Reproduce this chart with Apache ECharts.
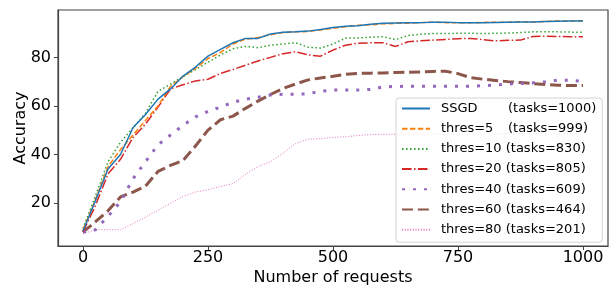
<!DOCTYPE html>
<html>
<head>
<meta charset="utf-8">
<script src="https://cdn.jsdelivr.net/npm/echarts@6/dist/echarts.min.js"></script>
<style>
  html, body { margin: 0; padding: 0; background: #fff; }
  #main { width: 615px; height: 287px; }
</style>
</head>
<body>
<div id="main"></div>
<script>
// x positions (number of requests)
var requests = [0, 25, 50, 75, 100, 125, 150, 175, 200, 225, 250, 275, 300, 325, 350, 375, 400,
  425, 450, 475, 500, 525, 550, 575, 600, 625, 650, 675, 700, 725, 750, 775, 800, 825, 850, 875,
  900, 925, 950, 975, 1000];

var seriesNames = ["SSGD", "thres=5", "thres=10", "thres=20", "thres=40", "thres=60", "thres=80"];
var taskCounts = [1000, 999, 830, 805, 609, 464, 201];
var xTicks = [0, 250, 500, 750, 1000];
var yTicks = [20, 40, 60, 80];

var ssgd = [8.5, 21, 34, 40, 51, 56.5, 62.8, 67, 72.3, 76, 80.5, 83.3, 86, 87.8, 87.8, 89.6, 90.3,
  90.5, 90.8, 91.5, 92.3, 92.8, 93, 93.6, 94, 94.1, 94.2, 94.3, 94.5, 94.5, 94.3, 94.2, 94.3, 94.4,
  94.5, 94.6, 94.6, 94.8, 94.9, 95, 95];
var thres5 = [9, 21.5, 35, 42, 48, 54, 60, 68, 72, 75.5, 79.5, 82, 85.5, 87.5, 88.2, 89.3, 90.2,
  90.5, 90.6, 91.3, 92, 92.6, 93.2, 93.4, 93.8, 94, 94, 94.3, 94.5, 94.3, 94.2, 94.2, 94.4, 94.5,
  94.5, 94.7, 94.6, 94.8, 95, 95, 95.1];
var thres10 = [9.5, 23, 37, 45, 51, 57, 66, 69, 72, 75, 78, 81, 83.5, 84.5, 84, 85, 85.5,
  86, 84.2, 83.8, 85.5, 87.9, 88, 88.3, 88.5, 87.3, 89, 89.5, 89.8, 89.8, 89.9, 89.9, 89.8, 89.9,
  90, 90.2, 90.5, 90.5, 90.5, 90.4, 90.3];
var thres20 = [8, 19, 32, 38, 47, 52.5, 59.5, 67, 68.7, 70.3, 71, 73.4, 75, 76.8, 78.5, 80, 81.5,
  82.3, 81, 80.5, 83, 85, 85.8, 86, 86, 84.5, 86.4, 86.8, 87.1, 87.4, 87.7, 87.8, 87.3, 86.8,
  87, 87.1, 88.6, 88.7, 88.6, 88.5, 88.5];
var thres40 = [8, 9, 14.5, 20.5, 30, 37, 44, 48, 52, 55.5, 57.8, 59.5, 61.5, 62.7, 63.6, 64.5, 64.8,
  64.8, 65, 66, 66.5, 66.5, 66.5, 66.8, 67.8, 68, 68.1, 68.1, 68.1, 68.1, 68.1, 68.1, 68.3, 68.6,
  69, 69.2, 69.5, 70, 70.6, 70.5, 70.2];
var thres60 = [8, 12.3, 16.8, 22.5, 24.5, 27, 33, 35.5, 37.5, 43.5, 50, 54.3, 55.8, 59, 62, 64.7, 67.2,
  69, 70.7, 71.5, 72.2, 73, 73.4, 73.5, 73.6, 73.8, 73.9, 74, 74.2, 74.3, 73.3, 71.6, 71, 70.5,
  70, 69.6, 69.2, 68.8, 68.5, 68.4, 68.4];
var thres80 = [7.4, 9, 9, 9, 11.5, 14.2, 17, 20, 22.7, 24.5, 25.5, 26.8, 28, 31.8, 35, 37, 40.5,
  44.5, 46.3, 46.5, 47, 47.3, 47.8, 48.2, 48.3, 48.3, 48.3, 48.3, 48.4, 48.4, 48.4, 48.4, 48.4, 48.4,
  48.5, 48.5, 48.5, 48.5, 48.5, 48.5, 48.5];

var allValues = [ssgd, thres5, thres10, thres20, thres40, thres60, thres80];
var colors = ["#1f77b4", "#ff7f0e", "#2ca02c", "#d62728", "#9467bd", "#8c564b", "#e377c2"];
// line widths and dash patterns (matplotlib look)
var widths = [1.5, 1.5, 1.5, 1.5, 3, 3, 1];
var dashes = ["solid", [5.5, 2.4], [1.5, 2.5], [9.6, 2.4, 1.5, 2.4], [3, 8], [11, 4.8], [1, 1.7]];

var font = "DejaVu Sans";

function pairs(vals) {
  var out = [];
  for (var i = 0; i < requests.length; i++) {
    out.push([requests[i], vals[i]]);
  }
  return out;
}

var series = [];
for (var s = 0; s < seriesNames.length; s++) {
  series.push({
    name: seriesNames[s],
    type: "line",
    symbol: "none",
    showSymbol: false,
    data: pairs(allValues[s]),
    lineStyle: { color: colors[s], width: widths[s], type: dashes[s] },
    itemStyle: { color: colors[s] },
    z: 2 + (seriesNames.length - s) * 0.01
  });
}

var chart = echarts.init(document.getElementById("main"));
chart.setOption({
  animation: false,
  backgroundColor: "#ffffff",
  color: colors,
  grid: {
    left: 58,
    right: 7,
    top: 10,
    bottom: 41,
    outerBoundsMode: "none",
    containLabel: false,
    show: true,
    borderColor: "#444",
    borderWidth: 1.2
  },
  legend: {
    orient: "vertical",
    left: 396,
    top: 98,
    itemWidth: 28,
    itemHeight: 14,
    itemGap: 7.2,
    padding: [4, 6, 6, 5],
    backgroundColor: "rgba(255,255,255,0.8)",
    borderColor: "#d4d4d4",
    borderWidth: 1,
    borderRadius: 3,
    data: seriesNames,
    itemStyle: { opacity: 0 },
    textStyle: {
      fontFamily: font,
      fontSize: 13,
      color: "#000",
      padding: [0, 0, 0, 6],
      rich: {
        n: { fontFamily: font, fontSize: 13, color: "#000", width: 67 },
        t: { fontFamily: font, fontSize: 13, color: "#000" }
      }
    },
    formatter: function(name) {
      var i = seriesNames.indexOf(name);
      var tail = "(tasks=" + taskCounts[i] + ")";
      if (i < 2) {
        return "{n|" + name + "}{t|" + tail + "}";
      }
      return "{t|" + name + " " + tail + "}";
    }
  },
  xAxis: {
    type: "value",
    min: -50,
    max: 1050,
    name: "Number of requests",
    nameLocation: "middle",
    nameGap: 24,
    nameMoveOverlap: false,
    nameTextStyle: { fontFamily: font, fontSize: 16, color: "#000" },
    axisLine: { show: true, onZero: false, lineStyle: { color: "#444", width: 1.2 } },
    axisTick: { show: true, length: 4, customValues: xTicks, lineStyle: { color: "#444" } },
    axisLabel: {
      customValues: xTicks, fontFamily: font, fontSize: 16, color: "#000", margin: 4,
      formatter: function(v) { return String(v); }
    },
    splitLine: { show: false }
  },
  yAxis: {
    type: "value",
    min: 2.3,
    max: 99.5,
    name: "Accuracy",
    nameLocation: "middle",
    nameRotate: 90,
    nameGap: 29,
    nameMoveOverlap: false,
    nameTextStyle: { fontFamily: font, fontSize: 16, color: "#000" },
    axisLine: { show: true, onZero: false, lineStyle: { color: "#444", width: 1.2 } },
    axisTick: { show: true, length: 4, customValues: yTicks, lineStyle: { color: "#444" } },
    axisLabel: {
      customValues: yTicks, fontFamily: font, fontSize: 16, color: "#000", margin: 7,
      formatter: function(v) { return String(v); }
    },
    splitLine: { show: false }
  },
  series: series
});
</script>
</body>
</html>
